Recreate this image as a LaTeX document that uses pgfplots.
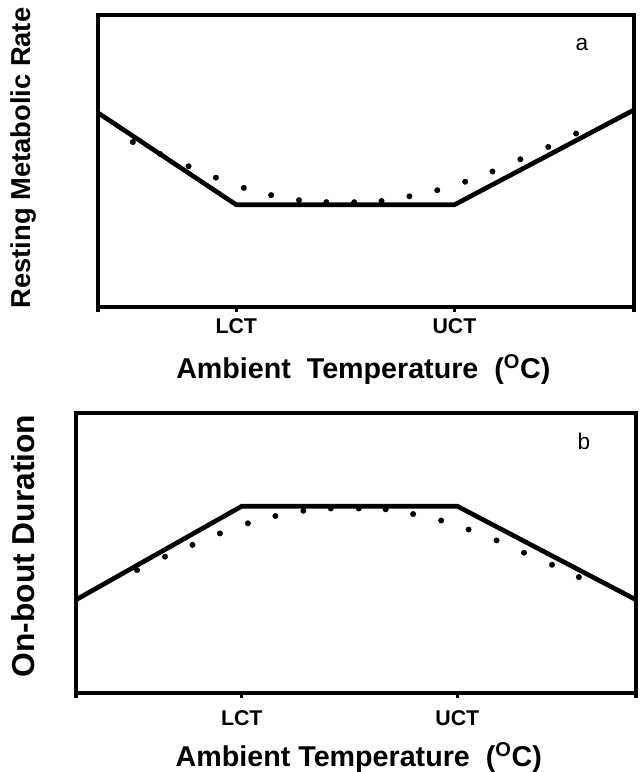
\documentclass[border=0pt]{standalone}
\usepackage{fontspec}
\setmainfont{Liberation Sans}
\usepackage{pgfplots}
\pgfplotsset{compat=1.18}
\begin{document}
\begin{tikzpicture}
\useasboundingbox (0,0) rectangle (480pt,579pt);
\pgfplotsset{panel/.style={
  scale only axis, xmin=0, xmax=100, ymin=0, ymax=100,
  axis line style={line width=3pt},
  ytick=\empty, xtick pos=bottom,
  xtick={0,25.8,66.5,100}, xticklabels={,LCT,UCT,},
  tick align=outside, major tick length=4pt,
  tick style={line width=2.5pt, black},
  xticklabel style={font=\bfseries\fontsize{16}{18}\selectfont},
  xlabel style={font=\bfseries\fontsize{21.5}{24}\selectfont, anchor=center},
  ylabel style={anchor=center},
  clip=false}}
% ---------- panel a ----------
\begin{axis}[panel, at={(73.5pt,348.75pt)}, width=402pt, height=219pt,
  xlabel={Ambient\ \ Temperature\ \ (\textsuperscript{O}C)},
  xlabel style={at={(axis description cs:0.495,-0.215)}},
  ylabel={Resting Metabolic Rate},
  ylabel style={at={(axis description cs:-0.139,0.51)}, font=\bfseries\fontsize{20.5}{24}\selectfont},
  xticklabel style={yshift=-1pt}]
\addplot[black, line width=3.5pt] coordinates {(0,66.5) (25.8,35) (66.5,35) (100,67.5)};
\addplot[only marks, mark=*, mark size=2pt, black] coordinates {
(6.5,56.5) (11.6,52.4) (16.9,48.2) (22.0,44.3) (27.2,40.8) (32.3,38.3) (37.5,36.6) (42.6,35.9) (47.8,35.9)
(52.9,36.3) (58.1,37.9) (63.3,40.0) (68.5,42.9) (73.6,46.4) (78.8,50.6) (84.0,54.8) (89.2,59.4)};
\node[font=\fontsize{17}{19}\selectfont] at (axis cs:90.3,90) {a};
\end{axis}
% ---------- panel b ----------
\begin{axis}[panel, at={(57pt,59.25pt)}, width=420pt, height=210pt,
  xtick={0,29.6,68.1,100},
  xlabel={Ambient Temperature\ \ (\textsuperscript{O}C)},
  xlabel style={at={(axis description cs:0.505,-0.23)}},
  ylabel={On-bout Duration},
  ylabel style={at={(axis description cs:-0.095,0.525)}, font=\bfseries\fontsize{23.8}{26}\selectfont},
  xticklabel style={yshift=-6pt}]
\addplot[black, line width=3.5pt] coordinates {(0,33.3) (29.6,66.7) (68.1,66.7) (100,33.3)};
\addplot[only marks, mark=*, mark size=2pt, black] coordinates {
(10.9,43.9) (15.9,48.7) (20.8,52.9) (25.7,57.0) (30.7,60.6) (35.6,63.2) (40.6,65.1) (45.5,65.9) (50.5,65.9)
(55.3,65.6) (60.2,63.9) (65.2,61.6) (70.1,58.4) (75.1,54.5) (80.0,50.1) (85.0,45.8) (89.8,41.4)};
\node[font=\fontsize{17}{19}\selectfont] at (axis cs:90.7,90) {b};
\end{axis}
\end{tikzpicture}
\end{document}
